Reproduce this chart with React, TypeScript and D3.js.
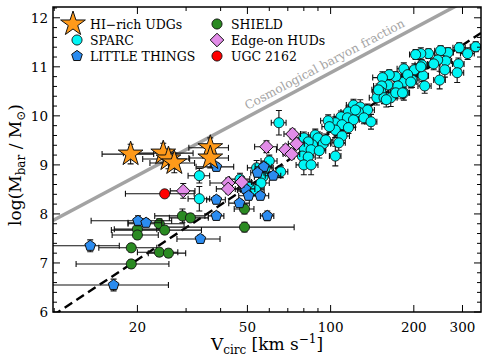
import React, { useEffect, useRef } from 'react';
import * as d3 from 'd3';

// [Vcirc (km/s), log Mbar, dV (km/s), dlogM]
const sparc = [
  [335, 11.41, 15, 0.1], [313, 11.27, 18, 0.12], [292, 11.39, 15, 0.1], [290, 11.06, 14, 0.12],
  [287, 10.88, 16, 0.2], [266, 11.29, 12, 0.1], [261, 11.12, 13, 0.12], [259, 10.94, 12, 0.15],
  [250, 11.33, 12, 0.1], [248, 10.73, 12, 0.18], [244, 11.14, 14, 0.1], [236, 11.06, 12, 0.12],
  [226, 11.27, 12, 0.1], [212, 11.27, 10, 0.12], [214, 11.04, 12, 0.1], [216, 10.82, 10, 0.12],
  [219, 10.61, 12, 0.15], [201, 10.94, 10, 0.12], [197, 10.73, 12, 0.15], [203, 11.25, 10, 0.1],
  [212, 11.0, 10, 0.12], [184, 10.96, 10, 0.12], [184, 10.69, 10, 0.12], [184, 10.47, 9, 0.15],
  [172, 10.8, 10, 0.1], [175, 10.61, 10, 0.12], [190, 10.84, 10, 0.12], [163, 10.84, 9, 0.1],
  [161, 10.63, 9, 0.15], [154, 10.78, 12, 0.12], [153, 10.61, 10, 0.15], [152, 10.49, 10, 0.12],
  [147, 10.37, 9, 0.15], [156, 10.37, 8, 0.12], [165, 10.37, 9, 0.18], [172, 10.47, 8, 0.12],
  [195, 10.69, 10, 0.12], [159, 10.33, 8, 0.15], [182, 10.47, 10, 0.12], [149, 10.53, 8, 0.12],
  [121, 10.22, 7, 0.12], [128, 10.18, 7, 0.15], [136, 10.12, 8, 0.12], [116, 10.08, 7, 0.12],
  [126, 10.08, 7, 0.12], [109, 9.98, 6, 0.12], [115, 9.96, 7, 0.12], [121, 9.92, 6, 0.15],
  [132, 9.96, 8, 0.12], [140, 9.88, 7, 0.15], [104, 9.86, 6, 0.12], [110, 9.82, 6, 0.12],
  [116, 9.76, 7, 0.12], [104, 9.71, 6, 0.15], [110, 9.59, 7, 0.15], [123, 10.12, 6, 0.12],
  [98, 9.9, 6, 0.12], [99, 9.78, 6, 0.12], [107, 9.45, 6, 0.15], [104, 9.18, 5, 0.2],
  [65, 9.86, 4, 0.25], [80, 9.55, 5, 0.12], [88, 9.61, 5, 0.12], [90, 9.55, 5, 0.12],
  [86, 9.41, 5, 0.15], [83, 9.47, 5, 0.12], [94, 9.43, 6, 0.12], [80, 9.35, 5, 0.12],
  [85, 9.31, 5, 0.12], [91, 9.29, 5, 0.15], [79, 9.18, 5, 0.12], [83, 9.16, 5, 0.12],
  [80, 9.0, 5, 0.2], [85, 9.0, 5, 0.2], [96, 9.51, 6, 0.12], [66, 8.86, 4, 0.12],
  [60, 9.08, 4, 0.12], [57, 8.76, 4, 0.12], [56, 8.63, 4, 0.12], [54, 8.94, 4, 0.15],
  [50, 8.49, 4, 0.12], [50.5, 8.55, 4, 0.12], [33.5, 8.78, 3, 0.15], [33.5, 8.31, 3, 0.25],
  [47, 8.71, 4, 0.12], [53.5, 8.49, 4, 0.12], [58, 8.94, 4, 0.12],
];

const littleThings = [
  [38.6, 8.96, 6, 0.08], [38.6, 8.29, 3, 0.08], [38.6, 7.96, 2.5, 0.08], [33.8, 7.49, 6, 0.08],
  [46.8, 8.22, 4, 0.08], [59, 7.96, 3.3, 0.1], [55.7, 8.37, 4, 0.08], [57.3, 8.96, 4, 0.1],
  [62, 8.78, 4, 0.08], [54.4, 8.84, 3, 0.08], [20.1, 7.86, 6.5, 0.1], [21.5, 7.82, 3, 0.08],
  [13.5, 7.35, 3.7, 0.12], [16.4, 6.55, 9.5, 0.12], [49.2, 8.51, 4, 0.08], [50.5, 8.37, 4, 0.08],
];

const shield = [
  [29.1, 7.96, 6, 0.14], [31.1, 7.92, 5, 0.08], [24.0, 7.8, 5.5, 0.1], [25.1, 7.67, 9, 0.08],
  [20.0, 7.69, 3.5, 0.08], [20.0, 7.57, 3.8, 0.08], [19.0, 7.31, 4.5, 0.08], [24.0, 7.22, 4, 0.08],
  [25.9, 7.2, 4, 0.08], [19.0, 6.98, 7, 0.08], [48.8, 8.1, 4, 0.1], [48.8, 7.73, 25, 0.1],
];

const edgeOnHuds = [
  [29.3, 8.47, 3, 0.15], [42.6, 8.63, 6, 0.1], [47.7, 8.65, 4, 0.1], [42.6, 8.51, 4, 0.1],
  [58.6, 9.37, 5.5, 0.12], [68.7, 9.31, 5, 0.1], [72.8, 9.63, 5, 0.1], [75.3, 9.43, 5, 0.1],
  [72.3, 9.22, 5, 0.1],
];

const ugc2162 = [[25.1, 8.41, 7, 0.06]];

const hiRichUdgs = [
  [18.9, 9.22, 4, 0.2], [24.8, 9.24, 7, 0.2], [25.9, 9.12, 5, 0.2],
  [27.2, 9.04, 5, 0.2], [36.7, 9.35, 6, 0.2], [36.7, 9.14, 6, 0.2],
];

const xTickLabels = [20, 50, 100, 200, 300];
const xMinorTicks = [10, 20, 30, 40, 50, 60, 70, 80, 90, 100, 200, 300];
const yTickLabels = [6, 7, 8, 9, 10, 11, 12];

// log M = slope * log V + intercept
const baryonLine = { slope: 3.0, intercept: 4.88 };
const btfrLine = { slope: 3.72, intercept: 2.226 };

const FONT = "'DejaVu Serif', 'Liberation Serif', serif";

function starPath(r: number) {
  const pts: [number, number][] = [];
  for (let i = 0; i < 10; i++) {
    const a = -Math.PI / 2 + (i * Math.PI) / 5;
    const rr = i % 2 === 0 ? r : r * 0.382;
    pts.push([rr * Math.cos(a), rr * Math.sin(a)]);
  }
  return d3.line()(pts) + 'Z';
}

function polyPath(r: number, n: number, rot: number) {
  const pts: [number, number][] = [];
  for (let i = 0; i < n; i++) {
    const a = rot + (i * 2 * Math.PI) / n;
    pts.push([r * Math.cos(a), r * Math.sin(a)]);
  }
  return d3.line()(pts) + 'Z';
}

const shapes = {
  circle: polyPath(5, 40, 0),
  pentagon: polyPath(5.6, 5, -Math.PI / 2),
  diamond: polyPath(6.8, 4, -Math.PI / 2),
  star: starPath(13),
};

export default function App() {
  const ref = useRef<SVGSVGElement>(null);

  useEffect(() => {
    const svg = d3.select(ref.current);
    svg.selectAll('*').remove();

    const left = 53, right = 481, top = 7, bottom = 312;
    const x = d3.scaleLog().domain([9.9, 350]).range([left, right]);
    const y = d3.scaleLinear().domain([6, 12.22]).range([bottom, top]);

    svg.append('rect').attr('width', 488).attr('height', 358).attr('fill', 'white');

    svg.append('clipPath').attr('id', 'plotclip')
      .append('rect').attr('x', left).attr('y', top)
      .attr('width', right - left).attr('height', bottom - top);

    const plot = svg.append('g').attr('clip-path', 'url(#plotclip)');

    // reference lines
    const vs = [9.9, 350];
    const line = d3.line<number>()
      .x((v) => x(v));
    plot.append('path')
      .attr('d', line.y((v) => y(baryonLine.slope * Math.log10(v) + baryonLine.intercept))(vs))
      .attr('stroke', '#a3a3a3').attr('stroke-width', 3.5).attr('fill', 'none');
    plot.append('path')
      .attr('d', line.y((v) => y(btfrLine.slope * Math.log10(v) + btfrLine.intercept))(vs))
      .attr('stroke', 'black').attr('stroke-width', 2.4).attr('stroke-dasharray', '9,5')
      .attr('fill', 'none');

    // label along the cosmological line
    const lv = 50;
    const lx = x(lv), ly = y(baryonLine.slope * Math.log10(lv) + baryonLine.intercept);
    const p2 = [x(300), y(baryonLine.slope * Math.log10(300) + baryonLine.intercept)];
    const ang = (Math.atan2(p2[1] - ly, p2[0] - lx) * 180) / Math.PI;
    plot.append('text')
      .attr('transform', `translate(${lx},${ly - 7}) rotate(${ang})`)
      .attr('font-family', FONT).attr('font-size', 12).attr('fill', '#a3a3a3')
      .text('Cosmological baryon fraction');

    const series = [
      { data: sparc, shape: 'circle', fill: '#00f5f5' },
      { data: shield, shape: 'circle', fill: '#2a8a22' },
      { data: littleThings, shape: 'pentagon', fill: '#2b8cf0' },
      { data: edgeOnHuds, shape: 'diamond', fill: '#e28ce8' },
      { data: ugc2162, shape: 'circle', fill: '#ff0000' },
      { data: hiRichUdgs, shape: 'star', fill: '#ff9a1a' },
    ];

    series.forEach((s) => {
      const g = plot.append('g');
      const eb = g.append('g').attr('stroke', '#111').attr('stroke-width', 1.1).attr('fill', 'none');
      s.data.forEach(([v, m, dv, dm]) => {
        const x0 = x(Math.max(v - dv, 1)), x1 = x(v + dv);
        const y0 = y(m - dm), y1 = y(m + dm);
        const cx = x(v), cy = y(m);
        const cap = 3;
        eb.append('path').attr('d',
          `M${x0},${cy}H${x1}M${x0},${cy - cap}V${cy + cap}M${x1},${cy - cap}V${cy + cap}` +
          `M${cx},${y0}V${y1}M${cx - cap},${y0}H${cx + cap}M${cx - cap},${y1}H${cx + cap}`);
      });
      g.append('g').selectAll('path').data(s.data).join('path')
        .attr('d', shapes[s.shape])
        .attr('transform', (d) => `translate(${x(d[0])},${y(d[1])})`)
        .attr('fill', s.fill).attr('stroke', '#111').attr('stroke-width', 1);
    });

    // axes frame and ticks
    const ax = svg.append('g').attr('stroke', 'black');
    xMinorTicks.forEach((v) => {
      const len = xTickLabels.includes(v) ? 7 : 4;
      const px = x(v);
      ax.append('line').attr('x1', px).attr('x2', px).attr('y1', bottom).attr('y2', bottom - len).attr('stroke-width', 1);
      ax.append('line').attr('x1', px).attr('x2', px).attr('y1', top).attr('y2', top + len).attr('stroke-width', 1);
    });
    d3.range(6, 12.21, 0.2).forEach((m) => {
      const major = Math.abs(m - Math.round(m)) < 1e-6;
      const len = major ? 7 : 4;
      const py = y(m);
      ax.append('line').attr('x1', left).attr('x2', left + len).attr('y1', py).attr('y2', py).attr('stroke-width', 1);
      ax.append('line').attr('x1', right).attr('x2', right - len).attr('y1', py).attr('y2', py).attr('stroke-width', 1);
    });
    svg.append('rect').attr('x', left).attr('y', top).attr('width', right - left).attr('height', bottom - top)
      .attr('fill', 'none').attr('stroke', 'black').attr('stroke-width', 1.5);

    svg.append('g').selectAll('text').data(xTickLabels).join('text')
      .attr('x', (d) => x(d)).attr('y', bottom + 20).attr('text-anchor', 'middle')
      .attr('font-family', FONT).attr('font-size', 13.5).text((d) => d);
    svg.append('g').selectAll('text').data(yTickLabels).join('text')
      .attr('x', left - 5).attr('y', (d) => y(d) + 5).attr('text-anchor', 'end')
      .attr('font-family', FONT).attr('font-size', 13.5).text((d) => d);

    // axis labels
    const xl = svg.append('text').attr('x', 267).attr('y', 350).attr('text-anchor', 'middle')
      .attr('font-family', FONT).attr('font-size', 17);
    xl.append('tspan').text('V');
    xl.append('tspan').attr('font-size', 12).attr('dy', 4).text('circ');
    xl.append('tspan').attr('dy', -4).text(' [km s');
    xl.append('tspan').attr('font-size', 12).attr('dy', -7).text('−1');
    xl.append('tspan').attr('dy', 7).text(']');

    const yl = svg.append('text').attr('transform', 'translate(21,165) rotate(-90)')
      .attr('text-anchor', 'middle').attr('font-family', FONT).attr('font-size', 17);
    yl.append('tspan').text('log(M');
    yl.append('tspan').attr('font-size', 12).attr('dy', 4).text('bar');
    yl.append('tspan').attr('dy', -4).text(' / M');
    yl.append('tspan').attr('font-size', 12).attr('dy', 4).text('⊙');
    yl.append('tspan').attr('dy', -4).text(')');

    // legend
    const legend = [
      { label: 'HI−rich UDGs', shape: 'star', fill: '#ff9a1a', x: 73, y: 24 },
      { label: 'SPARC', shape: 'circle', fill: '#00f5f5', x: 77, y: 40 },
      { label: 'LITTLE THINGS', shape: 'pentagon', fill: '#2b8cf0', x: 77, y: 56 },
      { label: 'SHIELD', shape: 'circle', fill: '#2a8a22', x: 217, y: 24 },
      { label: 'Edge-on HUDs', shape: 'diamond', fill: '#e28ce8', x: 217, y: 40 },
      { label: 'UGC 2162', shape: 'circle', fill: '#ff0000', x: 217, y: 56 },
    ];
    const lg = svg.append('g');
    legend.forEach((l) => {
      lg.append('path').attr('d', shapes[l.shape]).attr('transform', `translate(${l.x},${l.y})`)
        .attr('fill', l.fill).attr('stroke', '#111').attr('stroke-width', 1);
      lg.append('text').attr('x', l.x < 100 ? 90 : 231).attr('y', l.y + 4.5)
        .attr('font-family', FONT).attr('font-size', 12.5).text(l.label);
    });
  }, []);

  return <svg ref={ref} width={488} height={358} style={{ position: 'absolute', left: 0, top: 0 }} />;
}
